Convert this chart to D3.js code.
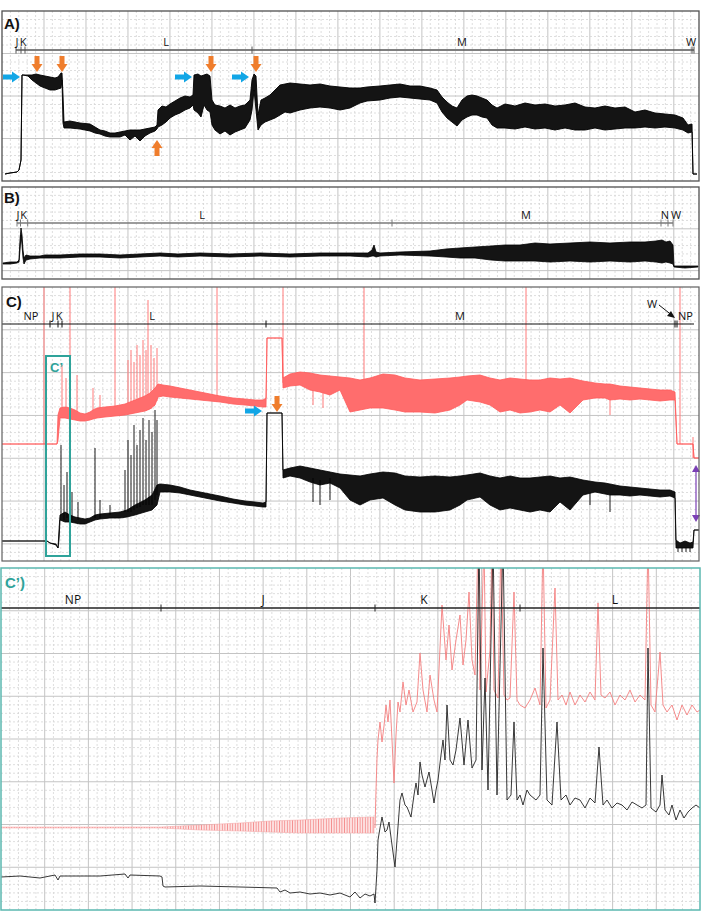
<!DOCTYPE html>
<html><head><meta charset="utf-8">
<script src="https://cdn.jsdelivr.net/npm/d3@7"></script>
<style>body{margin:0;background:#fff}svg{display:block}</style>
</head><body>
<svg id="c" width="701" height="921"></svg>
<script>
// ---------------- DATA (time units, amplitude units) ----------------
// Panel A trace envelope: [time, upper, lower]
const aTrace = [[3,7,7],[8,8,8],[15,9,9],[17,11,11],[19,21,21],[20,106,106],[21,106,106],[26,106,105],[30,106,101],[34,107,98],[38,106,95],[43,105,93],[48,104,91],[53,103,91],[56,104,92],[59,108,93],[60,108,101],[61,86,58],[62,59,53],[68,60,53],[78,58,52],[88,57,50],[93,54,48],[98,51,47],[103,50,45],[108,48,44],[113,48,44],[118,49,44],[123,50,46],[128,51,41],[133,51,45],[138,51,40],[143,52,45],[148,53,48],[153,54,50],[155,56,52],[156,71,54],[160,75,56],[164,74,59],[168,77,63],[173,80,66],[178,83,68],[183,85,71],[188,84,73],[191,86,76],[192,106,71],[196,107,68],[199,105,64],[202,106,76],[205,107,71],[208,105,69],[210,81,56],[213,76,51],[218,75,47],[223,73,50],[228,76,46],[233,73,49],[238,75,51],[243,76,53],[248,81,61],[250,101,71],[252,107,91],[254,105,71],[256,66,51],[259,81,56],[263,83,59],[268,86,61],[273,91,63],[278,96,66],[283,97,69],[288,98,68],[298,97,71],[308,96,73],[318,97,74],[328,95,73],[338,94,71],[348,93,73],[358,93,78],[365,94,80],[378,95,81],[388,96,83],[398,97,84],[408,95,83],[418,95,82],[428,93,81],[435,91,78],[440,84,69],[445,79,63],[450,75,59],[455,73,55],[460,81,61],[465,85,64],[470,86,66],[475,85,66],[480,83,64],[485,81,63],[490,76,56],[495,73,53],[503,77,53],[513,75,52],[523,78,54],[533,76,52],[543,77,53],[553,75,51],[563,76,53],[573,78,51],[583,74,51],[593,73,53],[603,75,51],[613,73,52],[623,74,53],[633,69,53],[643,71,54],[653,68,53],[663,67,54],[673,66,53],[681,63,51],[686,56,48],[690,57,49],[691,7,7],[695,7,7]];
const aSegBounds = [14,19,23,250,690,692];
const aSegLabels = [["J",15],["K",21],["L",164],["M",460],["W",689]];
const aBlueArrows = [[18,104],[190,104],[247,104]];
const aOrangeDown = [[35,109],[60,109],[209,109],[254,109]];
const aOrangeUp = [[155,41]];

// Panel B
const bTrace = [[1,16,15],[8,17,15],[15,17,16],[17,19,17],[18,39,29],[19,51,44],[20,44,34],[21,29,21],[22,21,15],[24,24,19],[28,23,20],[38,23,21],[43,24,21],[58,24,21],[78,25,22],[98,25,22],[118,24,21],[138,25,22],[158,26,23],[176,25,22],[198,26,23],[228,25,22],[258,26,23],[288,25,22],[318,26,23],[348,26,23],[366,26,22],[370,29,23],[372,34,23],[374,27,22],[378,26,23],[398,27,24],[428,28,23],[444,30,22],[458,31,21],[473,32,21],[489,33,19],[503,34,18],[518,34,18],[533,36,18],[548,35,17],[568,36,18],[588,37,17],[608,36,18],[628,37,17],[643,37,18],[654,38,17],[660,39,16],[664,37,17],[668,38,16],[671,34,15],[672,13,12],[683,13,11],[696,13,12]];
const bSegBounds = [15,18.5,25.7,390,659,666,671];
const bSegLabels = [["J",16],["K",21.5],["L",200],["M",524],["N",663],["W",674]];

// Panel C (red = upper channel, black = lower channel)
const cRed = [[0,117,117],[55,117,117],[56,146,121],[58,153,143],[63,154,143],[68,153,142],[73,151,141],[78,148,140],[83,147,140],[88,149,141],[91,151,142],[95,153,143],[103,154,144],[113,155,145],[123,157,146],[128,159,147],[133,161,148],[138,163,149],[143,165,150],[148,168,152],[153,173,156],[156,177,164],[161,176,165],[168,175,164],[178,173,163],[188,171,162],[198,169,161],[208,167,160],[218,165,159],[231,163,157],[243,162,156],[253,161,155],[261,161,154],[264,163,154],[265,223,223],[280,223,223],[281,183,173],[288,187,175],[298,189,176],[308,188,171],[318,186,169],[328,185,166],[338,184,171],[348,183,149],[358,181,151],[368,183,153],[381,187,153],[393,186,151],[403,183,149],[418,181,149],[433,182,148],[448,183,151],[458,184,156],[465,185,161],[478,186,159],[488,183,156],[498,181,149],[508,183,151],[518,182,148],[528,181,149],[538,181,151],[548,183,149],[558,182,156],[568,183,148],[581,180,161],[593,178,163],[603,177,163],[608,177,161],[618,175,162],[628,174,161],[638,173,162],[648,172,161],[658,171,160],[668,171,161],[673,169,161],[675,117,117],[691,117,117],[692,103,103],[697,103,103]];
// spikes: [time, from, to]
const cRedSpikes = [[42,117,274],[68,142,274],[113,145,274],[215,159,274],[281,178,274],[362,181,274],[524,180,274],[678,117,274],[60,143,196],[64,143,183],[75,141,186],[91,142,173],[98,143,166],[126,147,201],[129,147,211],[132,148,199],[135,149,216],[138,149,206],[141,150,221],[144,150,211],[146,151,261],[149,152,216],[152,155,203],[155,160,213],[691,103,124],[311,176,156],[321,176,153],[608,165,146]];
const cBlack = [[0,20,20],[45,20,20],[48,18,18],[54,17,16],[56,13,13],[57,31,21],[58,46,41],[63,49,39],[68,46,39],[73,44,38],[78,43,37],[83,42,37],[88,43,39],[93,46,41],[98,47,42],[108,48,43],[118,49,43],[125,51,44],[133,56,46],[143,61,49],[150,66,51],[155,76,56],[158,77,69],[168,76,69],[178,74,68],[188,71,66],[198,69,64],[208,67,62],[218,65,60],[231,62,58],[243,60,56],[253,59,55],[261,58,54],[264,59,54],[265,148,148],[280,148,148],[281,91,83],[288,93,85],[298,95,83],[308,93,79],[318,91,76],[328,89,78],[338,87,73],[348,86,61],[358,85,56],[368,87,61],[381,89,63],[393,88,56],[403,85,51],[418,84,49],[433,85,49],[448,84,51],[458,85,56],[465,86,61],[478,88,64],[488,85,56],[498,83,51],[508,85,53],[518,83,51],[528,83,49],[538,84,51],[548,85,49],[558,83,59],[568,84,51],[581,81,66],[593,79,69],[603,78,67],[608,77,66],[618,75,66],[628,74,65],[638,73,66],[648,72,65],[658,71,64],[668,71,65],[673,69,63],[674,21,13],[678,18,13],[683,20,13],[688,18,13],[691,19,13],[692,31,31],[697,31,31]];
const cBlackSpikes = [[59,46,116],[62,41,76],[65,43,89],[70,41,69],[76,41,59],[93,43,113],[98,43,61],[108,46,56],[123,49,91],[126,49,121],[129,49,106],[132,51,136],[135,53,116],[138,54,131],[141,56,143],[144,56,121],[147,56,141],[150,56,129],[153,61,151],[155,66,141],[311,83,59],[318,81,56],[328,83,61],[588,68,56],[608,66,49],[676,13,9],[680,13,9],[684,13,9],[688,13,9]];
const cSegBounds = [0,48,56,60,264,673,675,692];
const cSegLabels = [["NP",29],["J",51],["K",57],["L",150],["M",458],["NP",683.5]];
const cBlueArrows = [[260,150]];
const cOrangeDown = [[275,149]];
const cPurpleRange = [694,39,96];
const cZoomBox = [44,68,5,205];

// Panel C' (zoom of start of C)
const cpRedBand = [[0,83,82],[160,83,82],[199,85,80],[239,87,79],[269,89,78],[299,90,77],[339,92,77],[373,93,77]];
const cpRedLine = [[374,82],[375,120],[376,152],[377,170],[379,188],[381,168],[383,184],[385,205],[387,188],[389,210],[391,170],[393,127],[395,175],[397,208],[399,198],[402,228],[405,205],[408,220],[412,198],[416,208],[419,257],[422,220],[426,198],[429,235],[433,210],[436,198],[441,305],[445,250],[448,285],[451,240],[455,270],[459,295],[462,245],[465,270],[468,318],[471,250],[474,235],[477,370],[479,220],[483,370],[485,218],[489,260],[491,370],[493,220],[497,212],[500,370],[503,215],[506,210],[509,212],[513,318],[516,210],[519,205],[524,202],[529,210],[534,222],[539,205],[542,370],[545,202],[549,210],[554,322],[557,210],[561,215],[565,205],[569,218],[574,205],[579,215],[584,208],[589,218],[594,210],[597,307],[600,215],[604,212],[609,218],[614,205],[619,215],[624,210],[629,220],[634,208],[639,215],[644,210],[647,370],[650,205],[654,198],[659,258],[662,205],[666,198],[671,205],[676,190],[681,205],[686,195],[691,205],[696,198],[699,200]];
const cpBlack = [[0,33],[19,34],[39,32],[54,35],[57,30],[59,34],[99,34],[124,36],[127,32],[129,35],[159,34],[161,33],[162,24],[164,23],[199,24],[239,23],[276,22],[279,18],[284,20],[289,17],[299,18],[309,16],[319,17],[329,15],[339,17],[349,13],[354,18],[359,12],[364,16],[369,14],[373,16],[374,7],[376,40],[377,70],[379,82],[381,93],[384,78],[386,80],[388,88],[391,65],[394,43],[396,70],[399,110],[401,117],[404,105],[406,103],[410,93],[413,115],[415,127],[417,115],[419,148],[421,135],[424,123],[428,138],[431,120],[433,107],[435,120],[437,130],[440,155],[442,170],[444,150],[446,205],[449,150],[452,145],[455,160],[459,192],[463,145],[467,190],[471,142],[475,150],[478,370],[481,140],[484,232],[487,120],[492,370],[496,115],[502,370],[506,110],[510,115],[513,188],[516,110],[519,115],[522,105],[526,120],[529,115],[535,110],[539,115],[542,262],[546,110],[551,105],[556,188],[560,110],[565,115],[569,105],[574,112],[579,110],[584,102],[589,112],[594,107],[598,163],[602,105],[606,110],[611,102],[616,107],[621,105],[626,100],[631,108],[636,105],[641,102],[645,105],[647,262],[650,102],[655,98],[659,105],[661,135],[664,100],[668,95],[671,105],[675,90],[679,100],[683,92],[687,98],[691,102],[695,105],[699,102]];
const cpSegBounds = [0,160,374,519,699];
const cpSegLabels = [["NP",72],["J",262],["K",423],["L",614]];

// ---------------- LAYOUT ----------------
const svg = d3.select("#c");
const TEAL = "#2fa39a", BLUE = "#12a6e6", ORANGE = "#ef7d2c", PURPLE = "#7b3fb5";
const RED = "#ff5b5b";

// hatch patterns imitating dense oscillation
const defs = svg.append("defs");
function hatch(id, bg, fg, step, w) {
  const p = defs.append("pattern").attr("id", id).attr("patternUnits", "userSpaceOnUse")
    .attr("width", step).attr("height", 4);
  if (bg) p.append("rect").attr("width", step).attr("height", 4).attr("fill", bg);
  p.append("line").attr("x1", step / 2).attr("x2", step / 2).attr("y1", 0).attr("y2", 4)
    .attr("stroke", fg).attr("stroke-width", w);
}
hatch("redHatch", "#ff8a8a", "#ff4a4a", 1.6, 0.8);
hatch("pinkHatch", "#fde3e3", "#f49090", 2.6, 0.9);
hatch("blackHatch", "#3a3a3a", "#000", 1.5, 1);

function makePanel(id, box, tDom, aDom, cols, rows, border, bw) {
  const g = svg.append("g");
  const x = d3.scaleLinear().domain(tDom).range([box.x0, box.x1]);
  const y = d3.scaleLinear().domain(aDom).range([box.y1, box.y0]);
  g.append("clipPath").attr("id", "clip" + id).append("rect")
    .attr("x", box.x0).attr("y", box.y0).attr("width", box.x1 - box.x0).attr("height", box.y1 - box.y0);
  const grid = g.append("g");
  const sx = (box.x1 - box.x0) / cols, sy = (box.y1 - box.y0) / rows;
  d3.range(1, cols).forEach(i => {
    grid.append("line").attr("x1", box.x0 + i * sx).attr("x2", box.x0 + i * sx)
      .attr("y1", box.y0).attr("y2", box.y1)
      .attr("stroke", i % 5 === 0 ? "#c4c4c4" : "#d6d6d6").attr("stroke-width", i % 5 === 0 ? 1 : 0.8)
      .attr("stroke-dasharray", i % 5 === 0 ? null : "2,2");
  });
  d3.range(1, rows).forEach(j => {
    grid.append("line").attr("y1", box.y0 + j * sy).attr("y2", box.y0 + j * sy)
      .attr("x1", box.x0).attr("x2", box.x1)
      .attr("stroke", j % 5 === 0 ? "#c4c4c4" : "#d6d6d6").attr("stroke-width", j % 5 === 0 ? 1 : 0.8)
      .attr("stroke-dasharray", j % 5 === 0 ? null : "2,2");
  });
  const plot = g.append("g").attr("clip-path", `url(#clip${id})`);
  const over = g.append("g");
  g.append("rect").attr("x", box.x0).attr("y", box.y0).attr("width", box.x1 - box.x0).attr("height", box.y1 - box.y0)
    .attr("fill", "none").attr("stroke", border).attr("stroke-width", bw);
  return { g, x, y, plot, over, box };
}

function band(p, data, color, sw, fill) {
  const area = d3.area().x(d => p.x(d[0])).y1(d => p.y(d[1])).y0(d => p.y(d[2]));
  p.plot.append("path").datum(data).attr("d", area)
    .attr("fill", fill || color).attr("stroke", color).attr("stroke-width", sw).attr("stroke-linejoin", "round");
}
function line(p, data, color, sw) {
  const ln = d3.line().x(d => p.x(d[0])).y(d => p.y(d[1]));
  p.plot.append("path").datum(data).attr("d", ln).attr("fill", "none")
    .attr("stroke", color).attr("stroke-width", sw).attr("stroke-linejoin", "round");
}
function spikes(p, data, color, sw) {
  p.plot.selectAll(null).data(data).enter().append("line")
    .attr("x1", d => p.x(d[0])).attr("x2", d => p.x(d[0]))
    .attr("y1", d => p.y(d[1])).attr("y2", d => p.y(d[2]))
    .attr("stroke", color).attr("stroke-width", sw);
}
function segBar(p, yBar, bounds, labels, color, sw, tickEnds, fs) {
  const o = p.over;
  o.append("line").attr("x1", p.x(bounds[0])).attr("x2", p.x(bounds[bounds.length - 1]))
    .attr("y1", yBar).attr("y2", yBar).attr("stroke", color).attr("stroke-width", sw);
  bounds.forEach((b, i) => {
    if (!tickEnds && (i === 0 || i === bounds.length - 1)) return;
    o.append("line").attr("x1", p.x(b)).attr("x2", p.x(b)).attr("y1", yBar - 3.5).attr("y2", yBar + 3.5)
      .attr("stroke", color).attr("stroke-width", 1);
  });
  labels.forEach(l => {
    o.append("text").attr("x", p.x(l[1])).attr("y", yBar - 4).attr("text-anchor", "middle")
      .attr("font-family", "'Open Sans', 'DejaVu Sans', sans-serif").attr("font-size", fs || 11)
      .attr("fill", "#111").text(l[0]);
  });
}
function panelLabel(p, txt, xx, yy, color) {
  p.over.append("text").attr("x", xx).attr("y", yy).attr("font-family", "'Liberation Sans', Arial, sans-serif")
    .attr("font-weight", "bold").attr("font-size", 15).attr("fill", color || "#111").text(txt);
}
function arrowRight(p, d, color) {
  const tx = p.x(d[0]), ty = p.y(d[1]);
  p.over.append("path").attr("d", `M${tx},${ty} L${tx - 8},${ty - 5.5} L${tx - 8},${ty - 2.5} L${tx - 17},${ty - 2.5} L${tx - 17},${ty + 2.5} L${tx - 8},${ty + 2.5} L${tx - 8},${ty + 5.5} Z`).attr("fill", color);
}
function arrowVert(p, d, color, dir) { // dir 1 = pointing down, -1 = up
  const tx = p.x(d[0]), ty = p.y(d[1]), s = dir;
  p.over.append("path").attr("d", `M${tx},${ty} L${tx - 5.5},${ty - 8 * s} L${tx - 2.5},${ty - 8 * s} L${tx - 2.5},${ty - 16 * s} L${tx + 2.5},${ty - 16 * s} L${tx + 2.5},${ty - 8 * s} L${tx + 5.5},${ty - 8 * s} Z`).attr("fill", color);
}

// ---------------- PANEL A ----------------
const A = makePanel("A", { x0: 2, x1: 699, y0: 11, y1: 181 }, [0, 697], [0, 170], 83, 20, "#505050", 1.3);
band(A, aTrace, "#000", 0.9, "url(#blackHatch)");
segBar(A, 50, aSegBounds, aSegLabels, "#555", 1.5, true);
panelLabel(A, "A)", 4, 29);
aBlueArrows.forEach(d => arrowRight(A, d, BLUE));
aOrangeDown.forEach(d => arrowVert(A, d, ORANGE, 1));
aOrangeUp.forEach(d => arrowVert(A, d, ORANGE, -1));

// ---------------- PANEL B ----------------
const B = makePanel("B", { x0: 2, x1: 699, y0: 187, y1: 279 }, [0, 697], [0, 92], 83, 11, "#505050", 1.3);
band(B, bTrace, "#000", 0.8, "url(#blackHatch)");
segBar(B, 223, bSegBounds, bSegLabels, "#7a7a7a", 1.5, true);
panelLabel(B, "B)", 4, 203);

// ---------------- PANEL C ----------------
const C = makePanel("C", { x0: 2, x1: 699, y0: 287, y1: 561 }, [0, 697], [0, 274], 83, 32, "#606060", 1.2);
spikes(C, cRedSpikes, "#ff7a7a", 1);
band(C, cRed, RED, 0.8, "url(#redHatch)");
band(C, cBlack, "#000", 0.8, "url(#blackHatch)");
spikes(C, cBlackSpikes, "#000", 0.9);
segBar(C, 324, cSegBounds, cSegLabels, "#111", 1.2, false);
panelLabel(C, "C)", 6, 307);
cBlueArrows.forEach(d => arrowRight(C, d, BLUE));
cOrangeDown.forEach(d => arrowVert(C, d, ORANGE, 1));
// zoom box C'
C.over.append("rect").attr("x", C.x(cZoomBox[0])).attr("width", C.x(cZoomBox[1]) - C.x(cZoomBox[0]))
  .attr("y", C.y(cZoomBox[3])).attr("height", C.y(cZoomBox[2]) - C.y(cZoomBox[3]))
  .attr("fill", "none").attr("stroke", TEAL).attr("stroke-width", 2);
C.over.append("text").attr("x", C.x(cZoomBox[0]) + 4).attr("y", C.y(cZoomBox[3]) + 16)
  .attr("font-family", "'Liberation Sans', Arial, sans-serif").attr("font-weight", "bold").attr("font-size", 13)
  .attr("fill", TEAL).text("C’");
// purple double arrow
(function () {
  const px = C.x(cPurpleRange[0]), yTop = C.y(cPurpleRange[2]), yBot = C.y(cPurpleRange[1]);
  C.over.append("line").attr("x1", px).attr("x2", px).attr("y1", yTop + 6).attr("y2", yBot - 6)
    .attr("stroke", PURPLE).attr("stroke-width", 1.2);
  C.over.append("path").attr("d", `M${px},${yTop} L${px - 4},${yTop + 7} L${px + 4},${yTop + 7} Z`).attr("fill", PURPLE);
  C.over.append("path").attr("d", `M${px},${yBot} L${px - 4},${yBot - 7} L${px + 4},${yBot - 7} Z`).attr("fill", PURPLE);
})();
// W annotation arrow
(function () {
  const tx = C.x(673), ty = 318;
  C.over.append("text").attr("x", 652).attr("y", 308).attr("text-anchor", "middle")
    .attr("font-family", "'Open Sans', 'DejaVu Sans', sans-serif").attr("font-size", 11).attr("fill", "#111").text("W");
  C.over.append("line").attr("x1", 659).attr("y1", 305).attr("x2", tx - 4).attr("y2", ty - 3.5)
    .attr("stroke", "#111").attr("stroke-width", 1);
  C.over.append("path").attr("d", `M${tx},${ty} L${tx - 8},${ty - 2} L${tx - 4},${ty - 7} Z`).attr("fill", "#111");
})();

// ---------------- PANEL C' ----------------
const CP = makePanel("CP", { x0: 1, x1: 700, y0: 568, y1: 910 }, [0, 699], [0, 342], 80, 40, "#5bb8b0", 1.5);
band(CP, cpRedBand, "#f4a0a0", 0.5, "url(#pinkHatch)");
line(CP, cpRedLine, "#f47f7f", 0.9);
line(CP, cpBlack, "#222", 0.9);
segBar(CP, 608, cpSegBounds, cpSegLabels, "#222", 1.3, false, 12);
panelLabel(CP, "C’)", 5, 588, TEAL);
</script>
</body></html>
